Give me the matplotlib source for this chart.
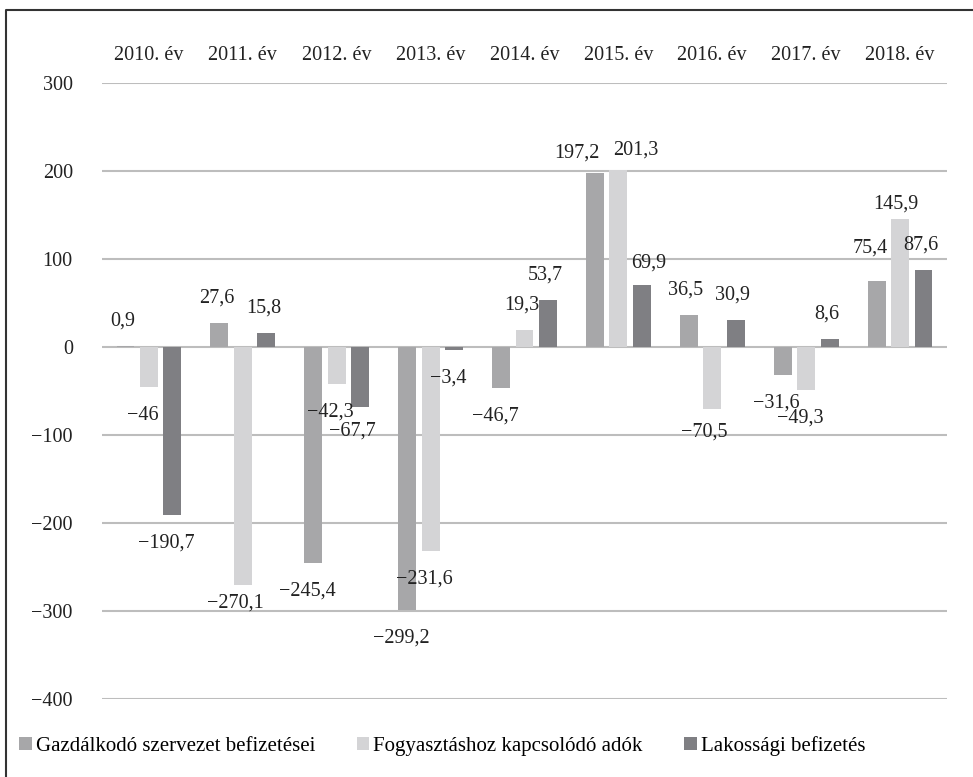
import matplotlib
matplotlib.use("Agg")
import matplotlib.pyplot as plt
from matplotlib.lines import Line2D
import numpy as np

plt.rcParams["font.family"] = ["Liberation Serif", "DejaVu Serif"]

years = ["2010. év", "2011. év", "2012. év", "2013. év", "2014. év",
         "2015. év", "2016. év", "2017. év", "2018. év"]
series_names = ["Gazdálkodó szervezet befizetései",
                "Fogyasztáshoz kapcsolódó adók",
                "Lakossági befizetés"]
gazdalkodo = [0.9, 27.6, -245.4, -299.2, -46.7, 197.2, 36.5, -31.6, 75.4]
fogyasztas = [-46, -270.1, -42.3, -231.6, 19.3, 201.3, -70.5, -49.3, 145.9]
lakossagi = [-190.7, 15.8, -67.7, -3.4, 53.7, 69.9, 30.9, 8.6, 87.6]
yticks = [300, 200, 100, 0, -100, -200, -300, -400]

colors = ["#a7a7a9", "#d4d4d6", "#7f7f83"]

# label nudges in pixels (dx, dy) where the original deviates from the default
label_nudge = {
    (5, 0): (-18, 20), (5, 1): (17, 20), (5, 2): (7, 22),
    (8, 0): (-6, 33), (8, 1): (-4, 15),
    (1, 1): (-7, -18), (2, 2): (-8, -24), (6, 1): (-8, -23),
}


def fmt(v):
    return f"{v:g}".replace(".", ",").replace("-", "\u2212")


W, H = 973, 777
fig = plt.figure(figsize=(W / 100, H / 100), dpi=100)
ax = fig.add_axes([102 / W, 1 - 699 / H, 845 / W, 616 / H])

x = np.arange(len(years))
step, width = 0.25, 0.19
for s, vals in enumerate([gazdalkodo, fogyasztas, lakossagi]):
    xs = x + (s - 1) * step
    ax.bar(xs, vals, width=width, color=colors[s], label=series_names[s], zorder=3)
    for i, v in enumerate(vals):
        default = (-3, 25) if v >= 0 else (-6, -28)
        dx, dy = label_nudge.get((i, s), default)
        ax.annotate(fmt(v), (xs[i], v), xytext=(dx, dy), textcoords="offset pixels",
                    ha="center", va="center", fontsize=14.5, color="#222222", zorder=4)

ax.set_xlim(-0.5, len(years) - 0.5)
ax.set_ylim(-400, 300)
ax.set_yticks(yticks)
ax.set_yticklabels([fmt(t) for t in yticks], fontsize=14.5, color="#222222")
ax.yaxis.grid(True, color="#bdbdbd", linewidth=1.5, zorder=0)
ax.tick_params(axis="y", length=0, pad=21)

ax.xaxis.tick_top()
ax.set_xticks(x)
ax.set_xticklabels(years, fontsize=14.5, color="#222222")
ax.tick_params(axis="x", length=0, pad=13)

for sp in ax.spines.values():
    sp.set_visible(False)

fig.legend(loc="center left", bbox_to_anchor=(19 / W, 1 - 746 / H), ncol=3,
           frameon=False, prop={"family": "Liberation Serif", "size": 15},
           handlelength=0.6, handleheight=0.6,
           handletextpad=0.2, columnspacing=2.0, borderpad=0, borderaxespad=0)

# outer frame (only top and left edges are visible in the source)
fig.add_artist(Line2D([6 / W, 6 / W, 1], [0, 1 - 10 / H, 1 - 10 / H],
                      transform=fig.transFigure, color="#333333", linewidth=1.5))

fig.savefig("out.png", dpi=100)
